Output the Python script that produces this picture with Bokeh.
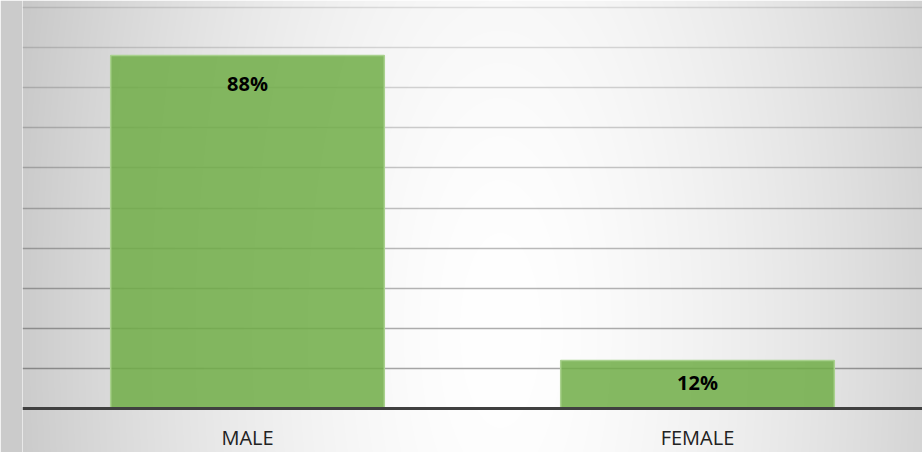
import numpy as np
from bokeh.plotting import figure
from bokeh.models import Range1d, FixedTicker, ColumnDataSource
from bokeh.core.properties import value
from bokeh.embed import file_html
from bokeh.resources import INLINE

# ---- data ----
categories = ["MALE", "FEMALE"]
shares = [0.88, 0.12]
grid_values = [0.1, 0.2, 0.3, 0.4, 0.5, 0.6, 0.7, 0.8, 0.9, 1.0]

# ---- layout ----
W, H = 922, 452
LEFT = 22
frame_w = W - LEFT
frame_h = H
px_cat = 450.0          # pixels per category
px_unit = 401.0         # pixels per 100%
base_px = 408.0         # frame pixels from top to the zero line

x0 = -0.5
x1 = -0.5 + frame_w / px_cat
y1 = base_px / px_unit
y0 = -(frame_h - base_px) / px_unit

p = figure(width=W, height=H, x_range=Range1d(x0, x1), y_range=Range1d(y0, y1),
           output_backend="svg", toolbar_location=None,
           min_border_left=LEFT, min_border_right=0, min_border_top=0, min_border_bottom=0)
p.outline_line_color = None
p.border_fill_color = "#cbcbcb"
p.xgrid.visible = False
p.ygrid.visible = False
p.yaxis.visible = False

# ---- radial background gradient ----
xs = LEFT + np.arange(frame_w) + 0.5
ys = np.arange(frame_h) + 0.5
XX, YY = np.meshgrid(xs, ys)
d = np.sqrt(((XX - 500) / 500.0) ** 2 + ((YY - 330) / 1200.0) ** 2)
shade = 255 - 55 * np.clip(d, 0, 1.3) ** 1.6
shade = np.clip(shade, 0, 255).astype(np.uint8)[::-1]
img = np.empty((frame_h, frame_w), dtype=np.uint32)
view = img.view(dtype=np.uint8).reshape((frame_h, frame_w, 4))
view[:, :, 0] = shade
view[:, :, 1] = shade
view[:, :, 2] = shade
view[:, :, 3] = 255
p.image_rgba(image=[img], x=x0, y=y0, dw=x1 - x0, dh=y1 - y0)

# ---- gridlines (darker toward the bottom) ----
grid_alpha = [0.11 + (1.0 - g) * 0.26 for g in grid_values]
p.hspan(y=grid_values, line_color="black", line_alpha=grid_alpha, line_width=1.5)

# ---- bars ----
idx = list(range(len(categories)))
p.vbar(x=idx, top=shares, bottom=0, width=0.608,
       fill_color="#70ad47", fill_alpha=0.85,
       line_color="#a9d18e", line_width=1.5)

# ---- value labels ----
labels = [f"{round(v * 100)}%" for v in shares]
offsets = [min(27.5, v * px_unit / 2 - 2) for v in shares]
src = ColumnDataSource(dict(x=idx, y=shares, text=labels, yoff=offsets))
p.text(x="x", y="y", text="text", y_offset="yoff", source=src,
       text_align="center", text_baseline="middle",
       text_font=value("Open Sans"), text_font_style="bold",
       text_font_size="20px", text_color="#000000")

# ---- category axis along the zero line ----
ax = p.xaxis[0]
ax.fixed_location = 0
ax.ticker = FixedTicker(ticks=idx)
ax.major_label_overrides = {i: c for i, c in zip(idx, categories)}
ax.axis_line_width = 3
ax.axis_line_color = "#404040"
ax.major_tick_line_color = None
ax.minor_tick_line_color = None
ax.major_label_standoff = 9
ax.major_label_text_font = "Open Sans"
ax.major_label_text_font_size = "20px"
ax.major_label_text_color = "#222222"

open("out.html", "w").write(file_html(p, INLINE))
